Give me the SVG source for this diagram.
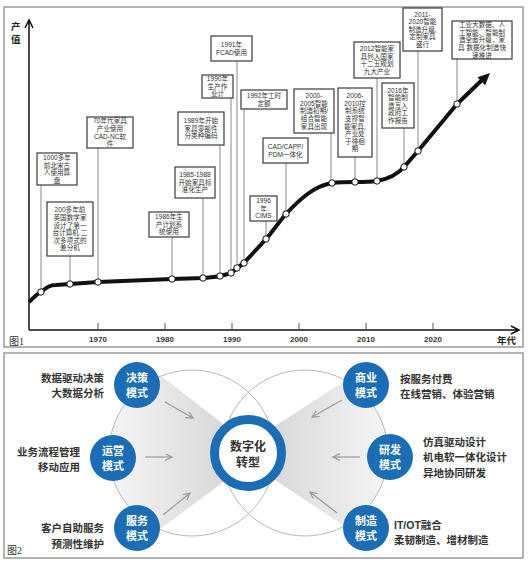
<svg xmlns="http://www.w3.org/2000/svg" width="530" height="564" viewBox="0 0 530 564">
<style>
.frame{fill:#fff;stroke:#9a9a9a;stroke-width:1.5}
.box{fill:#fff;stroke:#3a3a3a;stroke-width:1.2}
.bt{font-family:"Liberation Sans","Noto Sans CJK SC",sans-serif;font-size:6.6px;fill:#333;text-anchor:middle}
.conn{stroke:#8a8a8a;stroke-width:1;fill:none}
.pt{fill:#fff;stroke:#111;stroke-width:1}
.axis{stroke:#111;stroke-width:1.5;fill:none}
.tick{font-family:"Liberation Sans","Noto Sans CJK SC",sans-serif;font-size:8px;font-weight:bold;fill:#333;text-anchor:middle}
.lab{font-family:"Liberation Sans","Noto Sans CJK SC",sans-serif;font-size:10.5px;font-weight:bold;fill:#333}
.ct{font-family:"Noto Sans CJK SC",sans-serif;font-size:11px;font-weight:bold;fill:#fff;text-anchor:middle}
.blue{fill:#1b6db5}
.big{fill:none;stroke:#b8b8b8;stroke-width:1}
.arr{stroke:#9a9a9a;stroke-width:1.2;fill:none;marker-end:url(#ah)}
</style>
<defs>
<marker id="ah" markerUnits="userSpaceOnUse" markerWidth="9" markerHeight="9" refX="7" refY="3.5" orient="auto" viewBox="0 0 9 9">
<path d="M0,0 L7,3.5 L0,7" fill="none" stroke="#9a9a9a" stroke-width="1.2"/>
</marker>
<linearGradient id="gl" gradientUnits="userSpaceOnUse" x1="108" y1="0" x2="226" y2="0">
<stop offset="0" stop-color="#f5f5f5"/>
<stop offset="1" stop-color="#d8d8d8"/>
</linearGradient>
<linearGradient id="gr" gradientUnits="userSpaceOnUse" x1="272" y1="0" x2="390" y2="0">
<stop offset="0" stop-color="#d8d8d8"/>
<stop offset="1" stop-color="#f5f5f5"/>
</linearGradient>
<clipPath id="cl"><circle cx="192" cy="453" r="83"/></clipPath>
<clipPath id="cr"><circle cx="305" cy="453" r="83"/></clipPath>
</defs>

<rect width="530" height="564" fill="#fff"/>
<rect class="frame" x="4" y="7" width="519" height="340"/>
<rect class="frame" x="4" y="353" width="519" height="205"/>

<!-- Figure 1 axes -->
<g id="axes">
<path class="axis" d="M29,330 V21 M25,28 L29,20 L33,28"/>
<path class="axis" d="M29,330 H518 M511,326 L519,330 L511,334"/>
<path d="M98,323 V330 M165,323 V330 M232,323 V330 M299,323 V330 M366,323 V330 M433,323 V330" stroke="#555" stroke-width="1"/>
<text class="tick" x="98" y="342">1970</text>
<text class="tick" x="165" y="342">1980</text>
<text class="tick" x="232" y="342">1990</text>
<text class="tick" x="299" y="342">2000</text>
<text class="tick" x="366" y="342">2010</text>
<text class="tick" x="433" y="342">2020</text>
<text x="497" y="344" font-family="Liberation Sans,Noto Sans CJK SC,sans-serif" font-size="9.5" font-weight="bold" fill="#222">年代</text>
<text x="11" y="30" font-family="Noto Sans CJK SC,sans-serif" font-size="9.5" font-weight="bold" fill="#222">产</text>
<text x="11" y="43" font-family="Noto Sans CJK SC,sans-serif" font-size="9.5" font-weight="bold" fill="#222">值</text>
<text x="9" y="345" font-family="Liberation Serif,Noto Sans CJK SC,serif" font-size="10" fill="#333">图1</text>
</g>

<!-- connectors fig1 -->
<g id="connectors">
<path class="conn" d="M41,185 V289 M70,256 V281 M98,148 V279 M172,237 V276 M203,198 V275 M220,145 V273 M231,98 V270 M237,61 V265 M244,109 V260 M286,163 V211 M266,221 V236 M331,133 V180 M355,157 V179 M377,78 V178 M404,128 V164 M418,51 V148 M457,59 V101"/>
<path d="M29,302 C34,297 37,294 41,292 C46,288 49,285 56,285 L70,284 L98,282 L172,279 L203,278 C212,277 216,277 220,276 C225,275 228,274 231,273 C234,271 235,270 237,268 L244,263 C252,254 258,248 266,239 C273,231 279,222 286,214 C300,199 314,186 332,183 C340,182 347,182 355,182 C365,182 370,182 377,181 C388,179 397,175 404,167 L418,151 L457,104 L482,80" fill="none" stroke="#111" stroke-width="4" stroke-linejoin="round"/>
<polygon points="490,73 485.1,85.2 477.5,77.2" fill="#111"/>
<g>
<circle class="pt" cx="41" cy="292" r="3.2"/>
<circle class="pt" cx="70" cy="284" r="3.2"/>
<circle class="pt" cx="98" cy="282" r="3.2"/>
<circle class="pt" cx="172" cy="279" r="3.2"/>
<circle class="pt" cx="203" cy="278" r="3.2"/>
<circle class="pt" cx="220" cy="276" r="3.2"/>
<circle class="pt" cx="231" cy="273" r="3.2"/>
<circle class="pt" cx="237" cy="268" r="3.2"/>
<circle class="pt" cx="244" cy="263" r="3.2"/>
<circle class="pt" cx="266" cy="239" r="3.2"/>
<circle class="pt" cx="286" cy="214" r="3.2"/>
<circle class="pt" cx="332" cy="183" r="3.2"/>
<circle class="pt" cx="355" cy="182" r="3.2"/>
<circle class="pt" cx="377" cy="181" r="3.2"/>
<circle class="pt" cx="404" cy="167" r="3.2"/>
<circle class="pt" cx="418" cy="151" r="3.2"/>
<circle class="pt" cx="457" cy="104" r="3.2"/>
</g>
</g>

<g id="b1"><rect class="box" x="37" y="153" width="40" height="32"/>
<text class="bt"><tspan x="57" y="159.9">1000多年</tspan><tspan x="57" y="167.5">前北宋古</tspan><tspan x="57" y="175.1">人使用算</tspan><tspan x="57" y="182.7">盘</tspan></text></g>
<g id="b2"><rect class="box" x="47" y="202" width="46" height="54"/>
<text class="bt"><tspan x="70" y="212.3">200多年前</tspan><tspan x="70" y="219.9">英国数学家</tspan><tspan x="70" y="227.5">设计了第一</tspan><tspan x="70" y="235.1">台计算机 二</tspan><tspan x="70" y="242.7">次多项式的</tspan><tspan x="70" y="250.3">差分机</tspan></text></g>
<g id="b3"><rect class="box" x="87" y="117" width="46" height="31"/>
<text class="bt"><tspan x="110" y="123.4">70年代家具</tspan><tspan x="110" y="131">产业使用</tspan><tspan x="110" y="138.6">CAD-NC软</tspan><tspan x="110" y="146.2">件</tspan></text></g>
<g id="b4"><rect class="box" x="149" y="212" width="40" height="25"/>
<text class="bt"><tspan x="169" y="219.2">1986年生</tspan><tspan x="169" y="226.8">产计划系</tspan><tspan x="169" y="234.4">统使用</tspan></text></g>
<g id="b5"><rect class="box" x="175" y="167" width="40" height="31"/>
<text class="bt"><tspan x="195" y="177.2">1985-1988</tspan><tspan x="195" y="184.8">开始家具标</tspan><tspan x="195" y="192.4">准化生产</tspan></text></g>
<g id="b6"><rect class="box" x="178" y="112" width="46" height="33"/>
<text class="bt"><tspan x="201" y="123.2">1989年开始</tspan><tspan x="201" y="130.8">家具零部件</tspan><tspan x="201" y="138.4">分类种编码</tspan></text></g>
<g id="b7"><rect class="box" x="202" y="75" width="31" height="23"/>
<text class="bt"><tspan x="217.5" y="81.2">1990年</tspan><tspan x="217.5" y="88.8">生产作</tspan><tspan x="217.5" y="96.4">业计</tspan></text></g>
<g id="b8"><rect class="box" x="211" y="36" width="41" height="25"/>
<text class="bt"><tspan x="231.5" y="47">1991年</tspan><tspan x="231.5" y="54.6">FCAD使用</tspan></text></g>
<g id="b9"><rect class="box" x="241" y="90" width="46" height="19"/>
<text class="bt"><tspan x="264" y="98">1992年工时</tspan><tspan x="264" y="105.6">定额</tspan></text></g>
<g id="b10"><rect class="box" x="263" y="138" width="45" height="25"/>
<text class="bt"><tspan x="285.5" y="149">CAD/CAPP/</tspan><tspan x="285.5" y="156.6">PDM一体化</tspan></text></g>
<g id="b11"><rect class="box" x="250" y="196" width="27" height="25"/>
<text class="bt"><tspan x="263.5" y="203.2">1996</tspan><tspan x="263.5" y="210.8">年</tspan><tspan x="263.5" y="218.4">CIMS</tspan></text></g>
<g id="b12"><rect class="box" x="294" y="89" width="40" height="44"/>
<text class="bt"><tspan x="314" y="98.1">2000-</tspan><tspan x="314" y="105.7">2005智能</tspan><tspan x="314" y="113.3">制造初期/</tspan><tspan x="314" y="120.9">组合智能</tspan><tspan x="314" y="128.5">家具出现</tspan></text></g>
<g id="b13"><rect class="box" x="338" y="88" width="34" height="69"/>
<text class="bt"><tspan x="355" y="98.2">2006-</tspan><tspan x="355" y="105.8">2010控</tspan><tspan x="355" y="113.4">制系统</tspan><tspan x="355" y="121">支撑智</tspan><tspan x="355" y="128.6">能家具,</tspan><tspan x="355" y="136.2">产业处</tspan><tspan x="355" y="143.8">于徘徊</tspan><tspan x="355" y="151.4">期</tspan></text></g>
<g id="b14"><rect class="box" x="354" y="42" width="46" height="36"/>
<text class="bt"><tspan x="377" y="50.9">2012智能家</tspan><tspan x="377" y="58.5">具列入国家</tspan><tspan x="377" y="66.1">十二五规划</tspan><tspan x="377" y="73.7">九大产业</tspan></text></g>
<g id="b15"><rect class="box" x="382" y="83" width="32" height="45"/>
<text class="bt"><tspan x="398" y="92.6">2016年</tspan><tspan x="398" y="100.2">智能制</tspan><tspan x="398" y="107.8">造写入</tspan><tspan x="398" y="115.4">政府工</tspan><tspan x="398" y="123">作报告</tspan></text></g>
<g id="b16"><rect class="box" x="403" y="8" width="39" height="43"/>
<text class="bt"><tspan x="422.5" y="16.6">2011-</tspan><tspan x="422.5" y="24.2">2020智能</tspan><tspan x="422.5" y="31.8">制造升级,</tspan><tspan x="422.5" y="39.4">定制家具</tspan><tspan x="422.5" y="47">盛行</tspan></text></g>
<g id="b17"><rect class="box" x="452" y="21" width="60" height="38"/>
<text class="bt"><tspan x="482" y="27.1">工业大数据、人</tspan><tspan x="482" y="34.7">工智能、智能制</tspan><tspan x="482" y="42.3">造全面升级，家</tspan><tspan x="482" y="49.9">具 数据化制造快</tspan><tspan x="482" y="57.5">速推进</tspan></text></g>

<!-- Figure 2 -->
<g id="fig2-bg">
<polygon points="100,329 226,426 226,480 100,574" fill="url(#gl)" clip-path="url(#cl)"/>
<polygon points="272,428 400,345 400,563 272,478" fill="url(#gr)" clip-path="url(#cr)"/>
<circle class="big" cx="192" cy="453" r="83"/>
<circle class="big" cx="305" cy="453" r="83"/>
</g>
<g id="arrows">
<line class="arr" x1="165" y1="402" x2="193" y2="418"/>
<line class="arr" x1="145" y1="457" x2="172" y2="457"/>
<line class="arr" x1="163" y1="515" x2="190" y2="493"/>
<line class="arr" x1="342" y1="400" x2="312" y2="417"/>
<line class="arr" x1="360" y1="457" x2="333" y2="457"/>
<line class="arr" x1="337" y1="513" x2="310" y2="492"/>
</g>
<g id="center">
<circle cx="248" cy="453" r="33.5" fill="#fff" stroke="#1b6db5" stroke-width="9"/>
<text x="248" y="451" font-family="Noto Sans CJK SC,sans-serif" font-size="12" font-weight="bold" fill="#333" text-anchor="middle">数字化</text>
<text x="248" y="467" font-family="Noto Sans CJK SC,sans-serif" font-size="12" font-weight="bold" fill="#333" text-anchor="middle">转型</text>
</g>
<g id="juece"><circle class="blue" cx="137" cy="385" r="23"/>
<text class="ct" x="137" y="382">决策</text><text class="ct" x="137" y="397">模式</text>
<text class="lab" text-anchor="end" x="104" y="382">数据驱动决策</text>
<text class="lab" text-anchor="end" x="104" y="397">大数据分析</text></g>
<g id="yunying"><circle class="blue" cx="113" cy="458" r="23"/>
<text class="ct" x="113" y="455">运营</text><text class="ct" x="113" y="470">模式</text>
<text class="lab" text-anchor="end" x="80" y="456">业务流程管理</text>
<text class="lab" text-anchor="end" x="80" y="471">移动应用</text></g>
<g id="fuwu"><circle class="blue" cx="137" cy="528" r="23"/>
<text class="ct" x="137" y="525">服务</text><text class="ct" x="137" y="540">模式</text>
<text class="lab" text-anchor="end" x="104" y="532">客户自助服务</text>
<text class="lab" text-anchor="end" x="104" y="548">预测性维护</text></g>
<g id="shangye"><circle class="blue" cx="366" cy="385" r="23"/>
<text class="ct" x="366" y="382">商业</text><text class="ct" x="366" y="397">模式</text>
<text class="lab" x="400" y="383">按服务付费</text>
<text class="lab" x="400" y="398">在线营销、体验营销</text></g>
<g id="yanfa"><circle class="blue" cx="390" cy="457" r="23"/>
<text class="ct" x="390" y="454">研发</text><text class="ct" x="390" y="469">模式</text>
<text class="lab" x="423" y="446">仿真驱动设计</text>
<text class="lab" x="423" y="461">机电软一体化设计</text>
<text class="lab" x="423" y="477">异地协同研发</text></g>
<g id="zhizao"><circle class="blue" cx="366" cy="528" r="23"/>
<text class="ct" x="366" y="525">制造</text><text class="ct" x="366" y="540">模式</text>
<text class="lab" x="394" y="529">IT/OT融合</text>
<text class="lab" x="394" y="544">柔韧制造、增材制造</text></g>
<text x="7" y="554" font-family="Liberation Serif,Noto Sans CJK SC,serif" font-size="10" fill="#333">图2</text>
</svg>
